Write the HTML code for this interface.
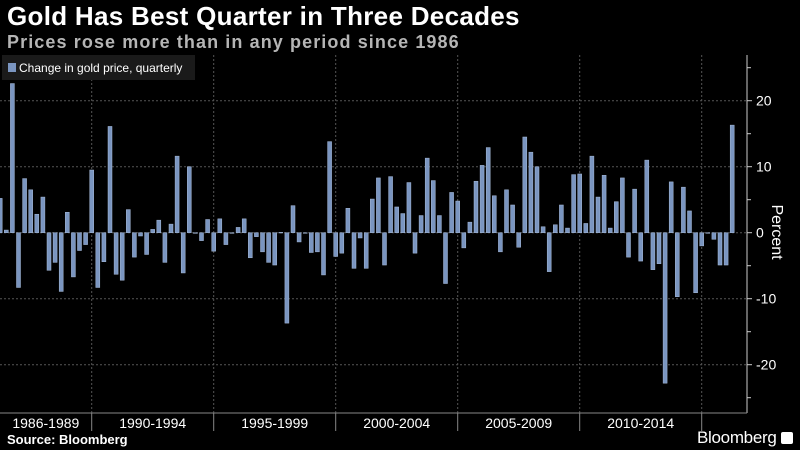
<!DOCTYPE html>
<html><head><meta charset="utf-8"><style>
html,body{margin:0;padding:0;background:#000;width:800px;height:450px;overflow:hidden;font-family:"Liberation Sans",sans-serif}
#title{position:absolute;left:7px;top:1px;color:#fff;font-weight:bold;font-size:26px;letter-spacing:0.3px}
#sub{position:absolute;left:7px;top:32px;color:#b5b5b5;font-weight:bold;font-size:18px;letter-spacing:1.1px}
#src{position:absolute;left:7px;top:432px;color:#fff;font-weight:bold;font-size:13px}
#brand{position:absolute;left:697px;top:428px;color:#fff;font-size:17px;letter-spacing:-0.3px}
</style></head><body>
<div id="title">Gold Has Best Quarter in Three Decades</div>
<div id="sub">Prices rose more than in any period since 1986</div>
<svg id="chart" width="800" height="450" style="position:absolute;left:0;top:0"></svg>
<div id="src">Source: Bloomberg</div>
<div id="brand">Bloomberg <span style="display:inline-block;width:12px;height:12px;background:#fff;border-radius:2px;vertical-align:-1px"></span></div>
<script>
const values = [5.2,0.4,22.6,-8.3,8.2,6.5,2.8,5.4,-5.7,-4.5,-8.9,3.1,-6.7,-2.7,-1.8,
9.5,-8.3,-4.4,16.1,-6.3,-7.2,3.5,-3.7,-0.5,-3.3,0.5,1.9,-4.5,1.3,11.6,-6.1,10.0,-0.1,-1.2,2.0,
-2.8,2.1,-1.8,-0.1,0.8,2.1,-3.8,-0.6,-2.9,-4.5,-4.9,0.05,-13.7,4.1,-1.4,-0.05,-3.0,-2.9,-6.4,13.8,
-3.6,-3.1,3.7,-5.4,-0.8,-5.4,5.1,8.3,-4.9,8.5,3.9,2.9,7.6,-3.1,2.6,11.3,7.9,2.6,-7.7,6.1,
4.8,-2.3,1.6,7.8,10.2,12.9,5.6,-2.9,6.5,4.2,-2.2,14.5,12.2,10.0,0.9,-5.9,1.2,4.2,0.7,8.8,
8.9,1.4,11.6,5.4,8.7,0.7,4.7,8.3,-3.7,6.6,-4.3,11.0,-5.6,-4.7,-22.8,7.7,-9.7,6.9,3.3,-9.1,
-2.0,-0.05,-1.0,-4.9,-4.9,16.3];
const periodLabels = ["1986-1989","1990-1994","1995-1999","2000-2004","2005-2009","2010-2014"];
const periodStart = [-1,15,35,55,75,95,115];
const yTicks = [20,10,0,-10,-20];
const yMinor = [25,15,5,-5,-15,-25];

const svg = document.getElementById('chart');
const NS = 'http://www.w3.org/2000/svg';
const plotLeft = 0, plotRight = 747, plotTop = 55, plotBottom = 413;
const step = 6.1, x0 = 91.7 - 15*step;
const xPos = i => x0 + i*step;
const yScale = v => 232.7 - v*6.6;
function mk(tag, attrs){const e=document.createElementNS(NS,tag);for(const k in attrs)e.setAttribute(k,attrs[k]);svg.appendChild(e);return e;}

yTicks.forEach(t=>{
  if(t!==0){const g=mk('line',{x1:plotLeft,x2:plotRight,y1:yScale(t),y2:yScale(t),stroke:'#555','stroke-dasharray':'2,2','stroke-width':1});
  
  }
  const tk=mk('line',{x1:plotRight,x2:plotRight+5,y1:yScale(t),y2:yScale(t),stroke:'#ccc'});
  
  
  const lb=mk('text',{x:plotRight+9,y:yScale(t)+5,fill:'#fff','font-size':14,'font-family':'Liberation Sans, sans-serif'});
  lb.textContent = t<0 ? '-'+Math.abs(t) : String(t);
  
  
});
yMinor.forEach(t=>{
  const tk=mk('line',{x1:plotRight,x2:plotRight+4,y1:yScale(t),y2:yScale(t),stroke:'#ccc'});
  
  
});
periodStart.forEach((s,k)=>{
  if(k===0) return;
  const x = xPos(s);
  const g=mk('line',{x1:x,x2:x,y1:plotTop,y2:plotBottom,stroke:'#555','stroke-dasharray':'2,2'});
  
  
  const tk=mk('line',{x1:x,x2:x,y1:plotBottom,y2:plotBottom+18,stroke:'#888'});
  
  
});
const zl=mk('line',{x1:plotLeft,x2:plotRight,y1:yScale(0),y2:yScale(0),stroke:'#555','stroke-dasharray':'2,2'});


periodLabels.forEach((p,k)=>{
  const xa = Math.max(0,xPos(periodStart[k])), xb = xPos(periodStart[k+1]);
  const t=mk('text',{x:(xa+xb)/2,y:428,fill:'#fff','font-size':14,'text-anchor':'middle','font-family':'Liberation Sans, sans-serif'});
  t.textContent=p;
  
  
});
values.forEach((v,i)=>{
  const x=xPos(i), y1=yScale(Math.max(v,0)), y2=yScale(Math.min(v,0));
  const b=mk('rect',{x:x-2,y:y1,width:4,height:Math.max(0.6,y2-y1),fill:'#7a95c0',stroke:'#a9bddc','stroke-width':0.5});
  
  
});
const ax=mk('line',{x1:plotRight,x2:plotRight,y1:plotTop,y2:plotBottom,stroke:'#ccc'});


const bx=mk('line',{x1:plotLeft,x2:plotRight,y1:plotBottom,y2:plotBottom,stroke:'#888'});


const yt=mk('text',{transform:'translate(772,232) rotate(90)',fill:'#fff','font-size':16,'text-anchor':'middle','font-family':'Liberation Sans, sans-serif'});
yt.textContent='Percent';


const lg=mk('rect',{x:2,y:55,width:193,height:25,fill:'#1a1a1a'});


const ls=mk('rect',{x:8,y:63,width:8,height:9,fill:'#7a95c0'});


const lt=mk('text',{x:19,y:72,fill:'#fff','font-size':12,'font-family':'Liberation Sans, sans-serif'});
lt.textContent='Change in gold price, quarterly';


</script>
</body></html>
